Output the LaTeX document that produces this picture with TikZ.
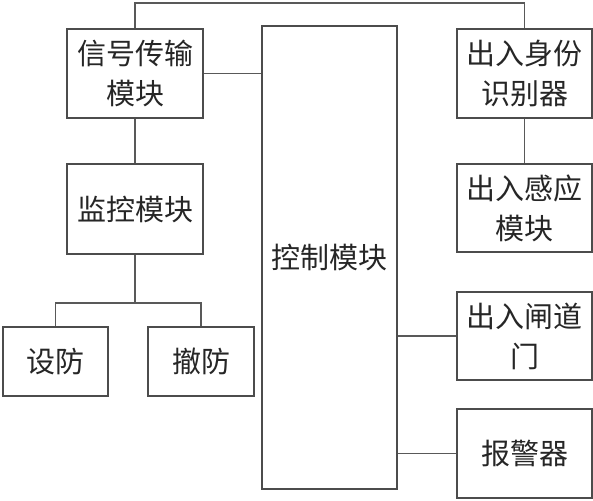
\documentclass[tikz,border=0pt]{standalone}
\usepackage{fontspec}
\newfontfamily\cjk{Noto Sans CJK SC}
\begin{document}
\begin{tikzpicture}[x=1pt,y=-1pt,
  box/.style={draw=black!70,line width=1.2pt,inner sep=0pt,align=center,
    font=\cjk\fontsize{29}{40}\selectfont,text=black!85},
  wire/.style={draw=black!65,line width=1.2pt}]
\useasboundingbox (0,0) rectangle (593,500);
\fill[white] (0,0) rectangle (593,500);
\node[box,minimum width=136pt,minimum height=89pt] (sig) at (135,73.5) {信号传输\\模块};
\node[box,minimum width=136pt,minimum height=90pt] (mon) at (135,209) {监控模块};
\node[box,minimum width=105pt,minimum height=69pt] (arm) at (55.5,361.5) {设防};
\node[box,minimum width=106pt,minimum height=69pt] (dis) at (201,361.5) {撤防};
\node[box,minimum width=135pt,minimum height=463pt] (ctrl) at (329.5,257.5) {控制模块};
\node[box,minimum width=135pt,minimum height=89pt] (id) at (524.5,73.5) {出入身份\\识别器};
\node[box,minimum width=135pt,minimum height=88pt] (ind) at (524.5,208) {出入感应\\模块};
\node[box,minimum width=135pt,minimum height=88pt] (gate) at (524.5,336) {出入闸道\\门};
\node[box,minimum width=135pt,minimum height=89pt] (alarm) at (524.5,453.5) {报警器};
\coordinate (top) at (135,3);
\coordinate (split) at (135,303);
\draw[wire] (sig.north) -- (top) -| (id.north);
\draw[wire] (sig.east) -- (sig.east -| ctrl.west);
\draw[wire] (sig.south) -- (mon.north);
\draw[wire] (mon.south) -- (split);
\draw[wire] (split) -| (arm.north);
\draw[wire] (split) -| (dis.north);
\draw[wire] (id.south) -- (ind.north);
\draw[wire] (gate.west -| ctrl.east) -- (gate.west);
\draw[wire] (alarm.west -| ctrl.east) -- (alarm.west);
\end{tikzpicture}
\end{document}
